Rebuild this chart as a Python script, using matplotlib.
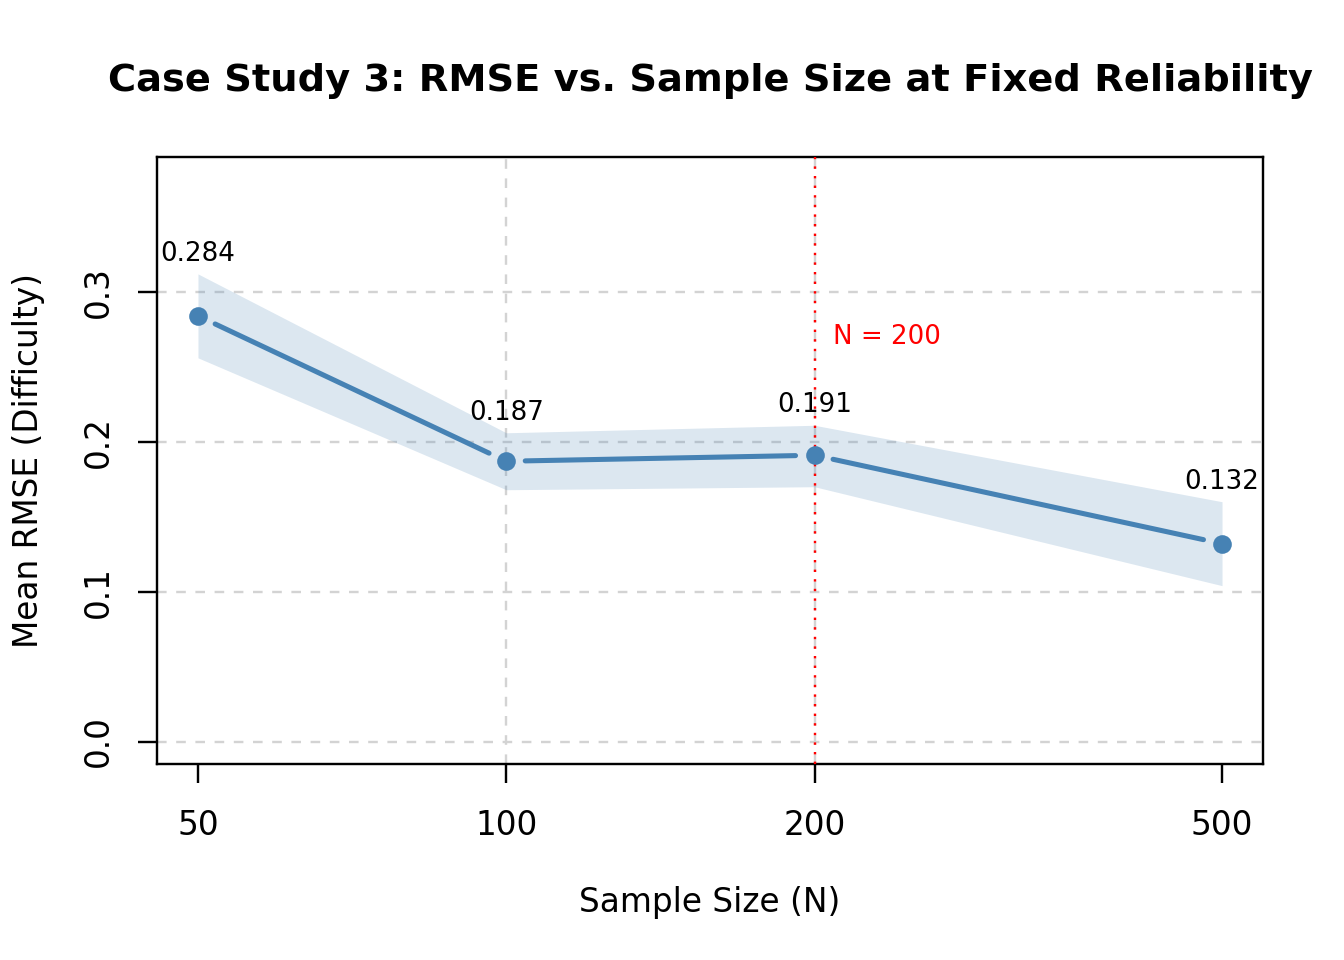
import numpy as np
import matplotlib
matplotlib.use("Agg")
import matplotlib.pyplot as plt

# RMSE by sample size, with the CI band around the mean
sample_sizes = [50, 100, 200, 500]
mean_rmse = [0.284, 0.187, 0.191, 0.132]
ci_lower = [0.256, 0.168, 0.170, 0.104]
ci_upper = [0.312, 0.206, 0.211, 0.160]
ref_n = 200
ref_label = "N = 200"
y_ticks = [0.0, 0.1, 0.2, 0.3]
x_ticks = [50, 100, 200, 500]
x_grid = [100, 200]

line_col = "#4682B4"

plt.rcParams['font.family'] = ['DejaVu Sans']

fig = plt.figure(figsize=(7, 5), dpi=192)
ax = fig.add_axes([157/1344, 1 - 764/960, (1263 - 157)/1344, (764 - 157)/960])

ax.set_xscale("log")
lx = np.log10([min(sample_sizes), max(sample_sizes)])
dx = (lx[1] - lx[0]) * 0.04
ax.set_xlim(10**(lx[0] - dx), 10**(lx[1] + dx))
ymax = 0.375
ax.set_ylim(-ymax * 0.04, ymax * 1.04)

# grid
for yv in y_ticks:
    ax.axhline(yv, color="#D3D3D3", lw=0.9, dashes=(4, 4), zorder=1)
for xv in x_grid:
    ax.axvline(xv, color="#D3D3D3", lw=0.9, dashes=(4, 4), zorder=1)

ax.fill_between(sample_sizes, ci_lower, ci_upper, color=line_col, alpha=0.19,
                linewidth=0, zorder=2)

ax.axvline(ref_n, color="red", lw=0.9, dashes=(1, 3), zorder=3)
ax.annotate(ref_label, (ref_n, max(mean_rmse) * 0.95), xytext=(7, 0),
            textcoords="offset points", ha="left", va="center",
            color="red", fontsize=9.8, zorder=5)

# line segments with gaps around points (type = "b")
fig.canvas.draw()
disp = ax.transData.transform(np.column_stack([sample_sizes, mean_rmse]))
gap = 19.0
inv = ax.transData.inverted()
for i in range(len(sample_sizes) - 1):
    p0, p1 = disp[i], disp[i + 1]
    d = p1 - p0
    L = np.hypot(*d)
    u = d / L
    a = inv.transform(p0 + u * gap)
    b = inv.transform(p1 - u * gap)
    ax.plot([a[0], b[0]], [a[1], b[1]], color=line_col, lw=1.9,
            solid_capstyle="round", zorder=4)

ax.plot(sample_sizes, mean_rmse, "o", color=line_col, markersize=7,
        markeredgewidth=0, zorder=5)

for xv, yv, up in zip(sample_sizes, mean_rmse, ci_upper):
    ax.annotate(f"{yv:.3f}", (xv, up), xytext=(0, 7.5), textcoords="offset points",
                ha="center", va="center", fontsize=9.8, zorder=6)

ax.set_xticks(x_ticks)
ax.set_xticklabels([str(v) for v in x_ticks])
ax.xaxis.set_minor_locator(matplotlib.ticker.NullLocator())
ax.set_yticks(y_ticks)
ax.set_yticklabels([f"{v:.1f}" for v in y_ticks], rotation=90, va="center")
ax.tick_params(axis="both", length=7.2, width=0.9, labelsize=12.3, direction="out")
ax.tick_params(axis="x", pad=9.5)
ax.tick_params(axis="y", pad=8.5)

for s in ax.spines.values():
    s.set_linewidth(0.9)

ax.set_xlabel("Sample Size (N)", fontsize=12.3, labelpad=16.5)
ax.set_ylabel("Mean RMSE (Difficulty)", fontsize=12.3, labelpad=14)
fig.text((157 + 1263) / 2 / 1344, 1 - 81 / 960,
         "Case Study 3: RMSE vs. Sample Size at Fixed Reliability",
         ha="center", va="center", fontsize=14.4, fontweight="bold")

fig.savefig("out.png", dpi=192)
